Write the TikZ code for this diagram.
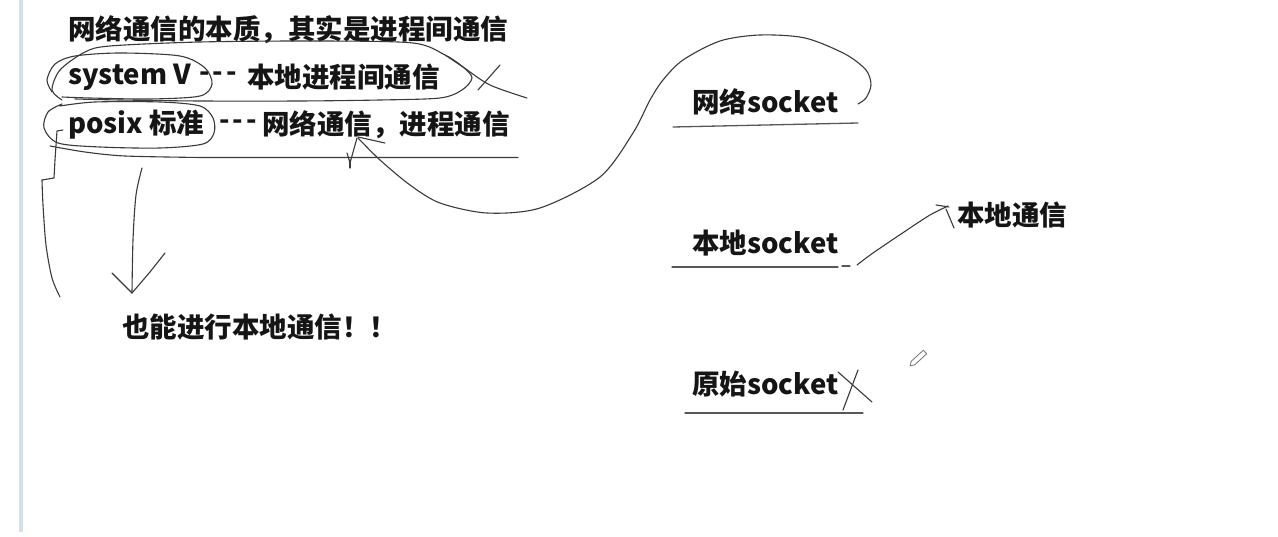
\documentclass[tikz,border=0pt]{standalone}
\usepackage{fontspec}
\setmainfont{Noto Sans CJK SC}
\definecolor{barblue}{HTML}{D6E0EC}
\definecolor{ink}{HTML}{151515}
\definecolor{penc}{HTML}{3A3A3A}
\begin{document}
\begin{tikzpicture}[x=1pt,y=-1pt,
  txt/.style={font=\fontsize{27.5}{30}\selectfont\bfseries, text=ink, inner sep=0pt, anchor=west},
  pen/.style={draw=penc, line width=1.1pt, line cap=round, line join=round},
  ul/.style={draw=penc!85, line width=1.3pt, line cap=round}]
\useasboundingbox[fill=white] (0,0) rectangle (1278,537);
\fill[barblue] (19,0) rectangle (23,532);

% texts
\node[txt] (t1) at (68,30) {网络通信的本质，其实是进程间通信};
\node[txt] (sv) at (68,77) {system V};
\node[txt] (svd) at (199,77) {{-}\kern3pt{-}\kern3pt{-}};
\node[txt] (svt) at (247,77) {本地进程间通信};
\node[txt] (px) at (68,125) {posix 标准};
\node[txt] (pxd) at (219,125) {{-}\kern3pt{-}\kern3pt{-}};
\node[txt] (pxt) at (262,125) {网络通信，进程通信};
\node[txt] (loc) at (122,327) {也能进行本地通信！！};
\node[txt] (net) at (692,102) {网络socket};
\node[txt] (lsock) at (692,243) {本地socket};
\node[txt] (lcom) at (957,215) {本地通信};
\node[txt] (raw) at (692,384) {原始socket};

% loop around "system V"
\draw[pen] plot[smooth] coordinates {(52,92) (47,80) (55,64) (75,56) (120,53) (180,56) (205,68) (212,84) (200,96) (150,99) (90,98) (62,97)};
% big loop around line 2
\draw[pen] plot[smooth] coordinates {(62,100) (52,90) (60,70) (85,52) (110,46) (200,42) (320,41) (413,43) (445,55) (463,67) (472,78) (462,90) (440,98) (380,100) (300,101) (200,101) (120,100) (75,99)};
\draw[pen] plot[smooth] coordinates {(445,55) (463,67) (490,85) (527,98)};
\draw[pen] (478,90) -- (500,65);

% loop around "posix 标准"
\draw[pen] plot[smooth] coordinates {(60,106) (95,102) (160,102) (200,106) (213,118) (214,133) (203,144) (160,148) (100,147) (58,143) (44,128) (48,112) (62,104)};
\draw[pen] plot[smooth] coordinates {(50,146) (85,152) (125,156) (200,157.5)} -- (518,157.5);

% left bracket line
\draw[pen] (63,130) -- (57,131) -- (55,160) -- (54,178) -- (42,180);
\draw[pen] plot[smooth] coordinates {(42,180) (43,205) (46,245) (52,278) (60,297)};

% arrow to 也能进行本地通信
\coordinate (a0) at (142,168);
\coordinate (a1) at (132,293);
\draw[pen] plot[smooth] coordinates {(a0) (136,195) (133,240) (a1)};
\draw[pen] (112,273) -- (a1) -- (150,272) -- (165,253);

% tick and curve to 网络socket
\draw[pen] (385,143) -- (358,137);
\draw[pen] (347,153) -- (350,163) -- (357,138);
\draw[pen] (350,160) -- (350,168);
\coordinate (c0) at (358,138);
\coordinate (c1) at (858,104);
\draw[pen] plot[smooth] coordinates {(c0) (380,160) (410,185) (440,203) (487,213) (540,208) (600,177) (633,133) (650,100) (663,80) (683,60) (720,41) (760,35) (805,38) (845,54) (866,70) (871,85) (866,98) (c1)};

% underlines
\draw[ul] (673,127) -- (858,123);
\draw[ul] (672,267) -- (838,267);
\draw[ul] (842,266) -- (850,266);
\draw[ul] (685,413) -- (863,413);

% 本地socket -> 本地通信
\coordinate (b0) at (857,265);
\coordinate (b1) at (948,206);
\draw[pen] plot[smooth] coordinates {(b0) (873,253) (907,230) (930,215) (b1)};
\draw[pen] (936,205) -- (949,207);
\draw[pen] (946,209) -- (954,228);

% cross after 原始socket
\draw[pen] (838,372) -- (872,402);
\draw[pen] (858,370) -- (843,410);

% pencil cursor
\draw[draw=black!55, fill=white, line width=0.8pt, line join=round]
  (910,366) -- (911.3,361.2) -- (923.3,350.2) -- (926.7,353.8) -- (914.7,364.8) -- cycle;
\end{tikzpicture}
\end{document}
